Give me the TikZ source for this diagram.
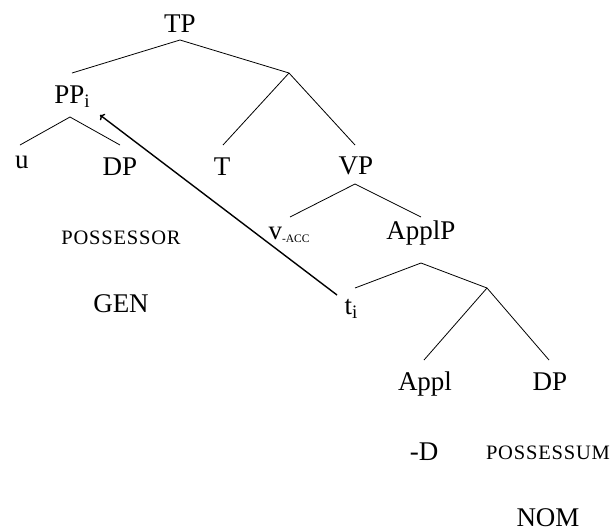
\documentclass[tikz,border=0pt]{standalone}
\usepackage{fontspec}
\setmainfont{Liberation Serif}
\usetikzlibrary{calc,arrows.meta}
\newcommand\mysub[1]{\raisebox{-4pt}{\fontsize{19}{22}\selectfont #1}}
\newcommand\myfsc[1]{{\fontsize{20.5}{24}\selectfont\addfontfeature{LetterSpace=4}#1}}
\newcommand\myacc{\raisebox{-3pt}{\fontsize{11.5}{14}\selectfont -ACC}}
\begin{document}
\begin{tikzpicture}[x=1pt,y=-1pt,
  every node/.style={inner sep=0pt, anchor=base, font=\fontsize{27}{32}\selectfont},
  edge/.style={line width=0.8pt},
  move/.style={line width=1.4pt, -{To[length=4pt,width=8pt]}}]
\useasboundingbox (0,0) rectangle (613,531);
% nodes
\node (TP) at (180,32) {TP};
\node (PP) at (72,103) {PP\mysub{i}};
\node (u) at (22,168) {u};
\node (DPl) at (120,175) {DP};
\node (T) at (222,175) {T};
\node (VP) at (356,174) {VP};
\node (v) at (289,239) {v\myacc};
\node (ApplP) at (421,239) {ApplP};
\node (t) at (351,314) {t\mysub{i}};
\node (Appl) at (425,390) {Appl};
\node (DPr) at (550,390) {DP};
\node (poss) at (121,244) {\myfsc{POSSESSOR}};
\node (gen) at (121,312) {GEN};
\node (negD) at (424,460) {-D};
\node (possum) at (548,459) {\myfsc{POSSESSUM}};
\node (nom) at (548,526) {NOM};
% branch points
\coordinate (X) at (289,73);
\coordinate (Y) at (487,288);
% edges
\draw[edge] ($(TP.base)+(0,8)$) -- ($(PP.base)+(0,-30)$);
\draw[edge] ($(TP.base)+(0,8)$) -- (X);
\draw[edge] (X) -- ($(T.base)+(1,-30)$);
\draw[edge] (X) -- ($(VP.base)+(-1,-29)$);
\draw[edge] ($(PP.base)+(-2,14)$) -- ($(u.base)+(-2,-23)$);
\draw[edge] ($(PP.base)+(-2,14)$) -- ($(DPl.base)+(0,-30)$);
\draw[edge] ($(VP.base)+(-1,10)$) -- ($(v.base)+(1,-22)$);
\draw[edge] ($(VP.base)+(-1,10)$) -- ($(ApplP.base)+(0,-22)$);
\draw[edge] ($(ApplP.base)+(0,24)$) -- ($(t.base)+(4,-26)$);
\draw[edge] ($(ApplP.base)+(0,24)$) -- (Y);
\draw[edge] (Y) -- ($(Appl.base)+(-1,-30)$);
\draw[edge] (Y) -- ($(DPr.base)+(-1,-30)$);
% movement arrow
\draw[move] ($(t.base)+(-14,-19)$) -- ($(PP.base)+(28,12)$);
\end{tikzpicture}
\end{document}
